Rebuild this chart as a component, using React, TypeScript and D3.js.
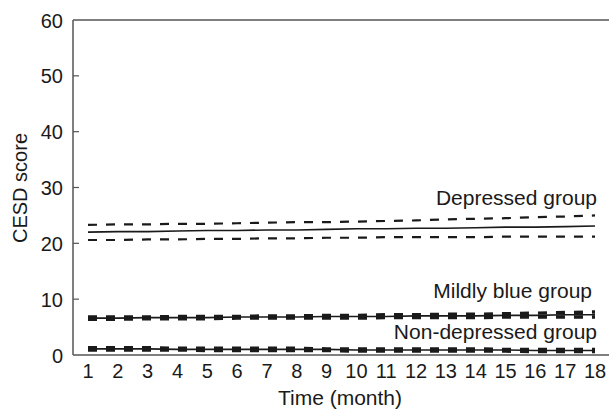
import React, { useRef, useEffect } from 'react';
import * as d3 from 'd3';

// months on the x axis
const months = [1, 2, 3, 4, 5, 6, 7, 8, 9, 10, 11, 12, 13, 14, 15, 16, 17, 18];
const yTicks = [0, 10, 20, 30, 40, 50, 60];

// CESD score trajectories (mean + confidence band)
const depressedMean = [22.0, 22.1, 22.1, 22.2, 22.3, 22.3, 22.4, 22.4, 22.5, 22.6, 22.6, 22.7, 22.7, 22.8, 22.9, 22.9, 23.0, 23.1];
const depressedUpper = [23.3, 23.4, 23.4, 23.5, 23.5, 23.6, 23.7, 23.8, 23.8, 23.9, 24.0, 24.1, 24.3, 24.4, 24.5, 24.7, 24.8, 25.0];
const depressedLower = [20.6, 20.6, 20.7, 20.7, 20.8, 20.8, 20.9, 20.9, 21.0, 21.0, 21.1, 21.1, 21.1, 21.1, 21.2, 21.2, 21.2, 21.2];

const blueMean = [6.6, 6.6, 6.7, 6.7, 6.7, 6.8, 6.8, 6.8, 6.9, 6.9, 6.9, 7.0, 7.0, 7.0, 7.1, 7.1, 7.2, 7.2];
const blueUpper = [6.8, 6.8, 6.8, 6.9, 6.9, 6.9, 7.0, 7.0, 7.1, 7.1, 7.2, 7.2, 7.3, 7.3, 7.4, 7.5, 7.6, 7.7];
const blueLower = [6.4, 6.4, 6.5, 6.5, 6.5, 6.6, 6.6, 6.6, 6.6, 6.6, 6.7, 6.7, 6.7, 6.7, 6.8, 6.8, 6.8, 6.8];

const nonMean = [1.1, 1.1, 1.1, 1.0, 1.0, 1.0, 1.0, 1.0, 1.0, 0.9, 0.9, 0.9, 0.9, 0.9, 0.9, 0.8, 0.8, 0.8];
const nonUpper = [1.3, 1.3, 1.3, 1.2, 1.2, 1.2, 1.2, 1.2, 1.1, 1.1, 1.1, 1.1, 1.1, 1.1, 1.0, 1.0, 1.0, 1.0];
const nonLower = [0.9, 0.9, 0.9, 0.9, 0.8, 0.8, 0.8, 0.8, 0.8, 0.7, 0.7, 0.7, 0.7, 0.7, 0.7, 0.6, 0.6, 0.6];

const groupLabels = ['Depressed group', 'Mildly blue group', 'Non-depressed group'];

const App = () => {
  const svgRef = useRef<SVGSVGElement>(null);
  const width = 609;
  const height = 410;

  useEffect(() => {
    const svg = d3.select(svgRef.current);
    svg.selectAll('*').remove();

    const font = '"Liberation Sans", Arial, Helvetica, sans-serif';
    const axisColor = '#555';
    const ink = '#1a1a1a';

    const x = d3.scaleLinear().domain([1, 18]).range([88, 595]);
    const y = d3.scaleLinear().domain([0, 60]).range([355, 20]);
    const left = 73;

    // frame: y axis, x axis and top line (no right border)
    svg.append('line').attr('x1', left).attr('x2', left).attr('y1', y(60)).attr('y2', y(0))
      .attr('stroke', axisColor).attr('stroke-width', 1.5);
    svg.append('line').attr('x1', left).attr('x2', width).attr('y1', y(0)).attr('y2', y(0))
      .attr('stroke', axisColor).attr('stroke-width', 1.5);
    svg.append('line').attr('x1', left).attr('x2', width).attr('y1', y(60)).attr('y2', y(60))
      .attr('stroke', axisColor).attr('stroke-width', 1.5);

    // y ticks (inward) and labels
    const yAxis = svg.append('g').attr('font-family', font).attr('font-size', 20).attr('fill', ink);
    yTicks.forEach((t) => {
      if (t > 0 && t < 60) {
        svg.append('line').attr('x1', left).attr('x2', left + 6).attr('y1', y(t)).attr('y2', y(t))
          .attr('stroke', axisColor).attr('stroke-width', 1.2);
      }
      yAxis.append('text').attr('x', 63).attr('y', y(t)).attr('dy', '0.38em')
        .attr('text-anchor', 'end').text(t);
    });

    // x tick labels
    const xAxis = svg.append('g').attr('font-family', font).attr('font-size', 20).attr('fill', ink);
    months.forEach((m) => {
      xAxis.append('text').attr('x', x(m)).attr('y', 378).attr('text-anchor', 'middle').text(m);
    });

    // axis titles
    svg.append('text').attr('x', 340).attr('y', 405).attr('text-anchor', 'middle')
      .attr('font-family', font).attr('font-size', 21).attr('fill', ink).text('Time (month)');
    svg.append('text').attr('transform', 'translate(27, 188) rotate(-90)').attr('text-anchor', 'middle')
      .attr('font-family', font).attr('font-size', 20).attr('fill', ink).text('CESD score');

    const line = d3.line<number>().x((_, i) => x(months[i])).y((d) => y(d));

    const drawGroup = (mean: number[], upper: number[], lower: number[], dashW: number) => {
      [upper, lower].forEach((band) => {
        svg.append('path').attr('d', line(band)).attr('fill', 'none')
          .attr('stroke', ink).attr('stroke-width', dashW).attr('stroke-dasharray', '9,9');
      });
      svg.append('path').attr('d', line(mean)).attr('fill', 'none')
        .attr('stroke', ink).attr('stroke-width', 1.6);
    };

    drawGroup(depressedMean, depressedUpper, depressedLower, 2.2);
    drawGroup(blueMean, blueUpper, blueLower, 3.4);
    drawGroup(nonMean, nonUpper, nonLower, 3.4);

    // group labels
    const labels = svg.append('g').attr('font-family', font).attr('font-size', 21).attr('fill', ink)
      .attr('text-anchor', 'end');
    labels.append('text').attr('x', 597).attr('y', 205).text(groupLabels[0]);
    labels.append('text').attr('x', 592).attr('y', 298).text(groupLabels[1]);
    labels.append('text').attr('x', 597).attr('y', 339).text(groupLabels[2]);
  }, []);

  return (
    <svg ref={svgRef} width={width} height={height}
      style={{ position: 'absolute', left: 0, top: 0, background: '#fff' }} />
  );
};

export default App;
